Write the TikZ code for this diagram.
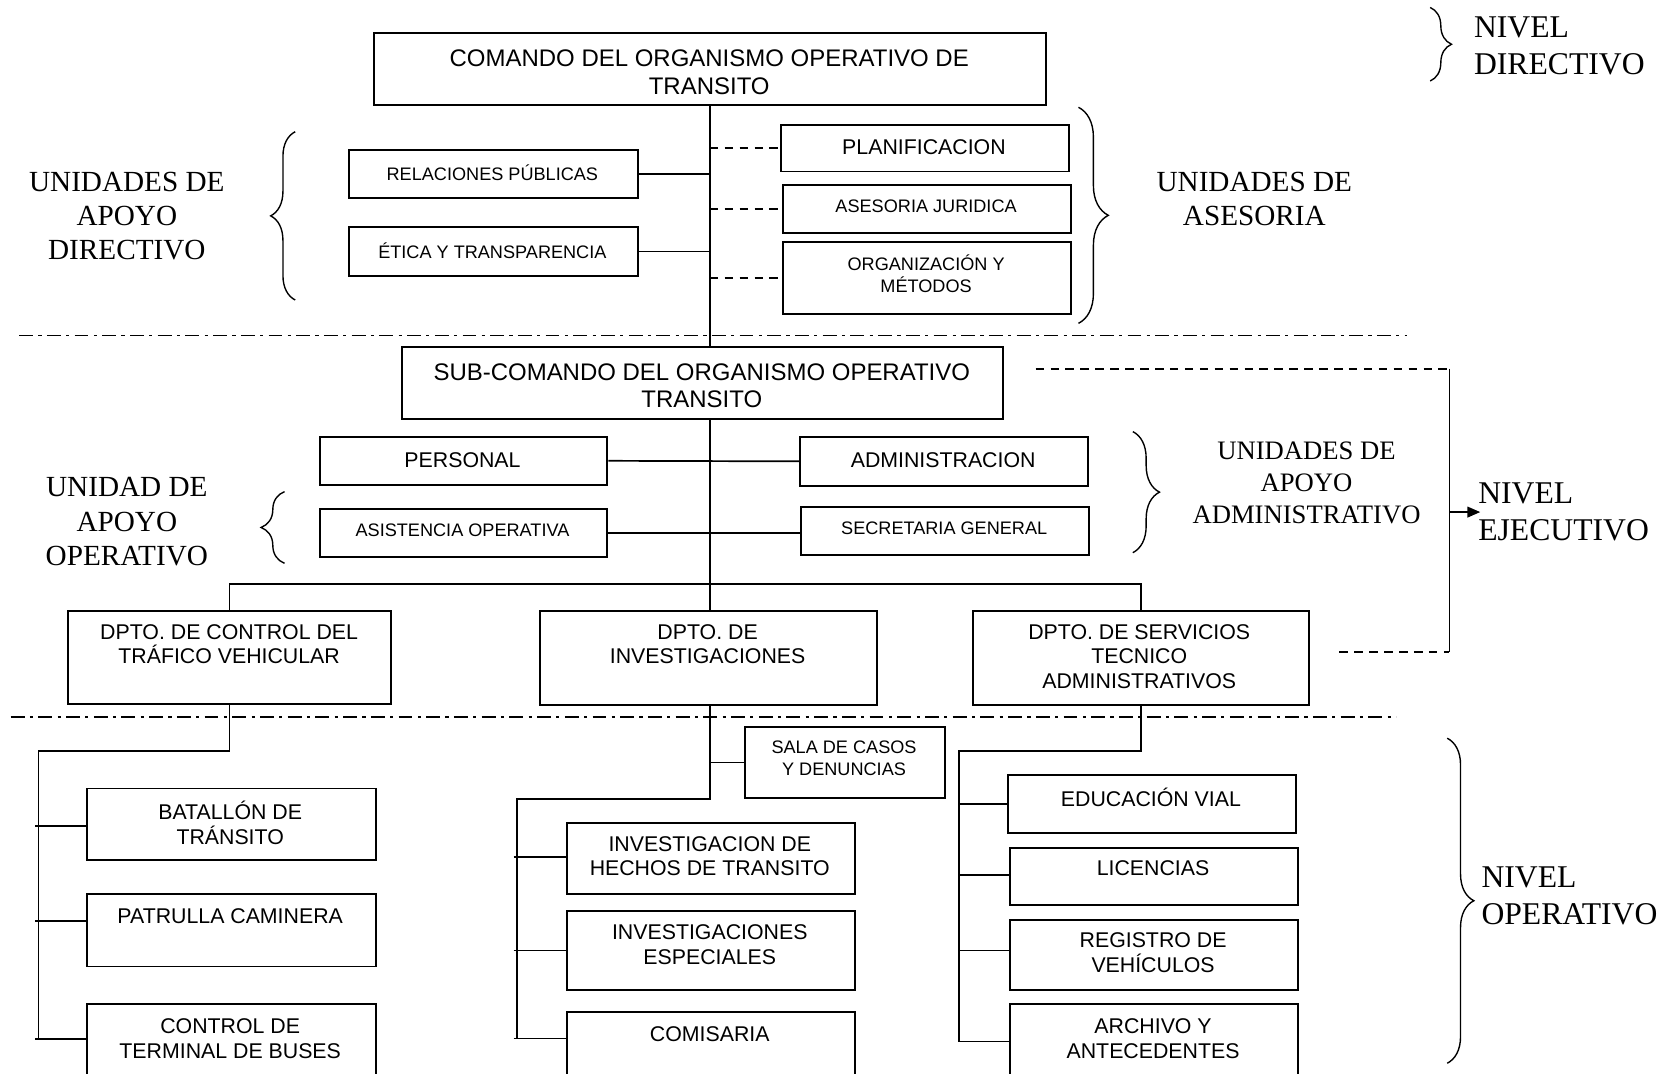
\documentclass[tikz,border=0pt]{standalone}
\usepackage{fontspec}
\setmainfont{Liberation Serif}
\newfontfamily\arialfont{Liberation Sans}
\usetikzlibrary{arrows.meta,decorations.pathreplacing}

\tikzset{
  unit/.style={draw, line width=1.8pt, inner sep=0pt, anchor=north west},
  cmdtxt/.style={font=\arialfont\fontsize{22.5}{26}\selectfont, align=center, inner sep=0pt},
  regtxt/.style={font=\arialfont\fontsize{20}{23}\selectfont, align=center, inner sep=0pt},
  smltxt/.style={font=\arialfont\fontsize{17}{20.5}\selectfont, align=center, inner sep=0pt},
  grptxt/.style={font=\fontsize{27.4}{32}\selectfont, align=center, inner sep=0pt},
  grpsmall/.style={font=\fontsize{25}{30}\selectfont, align=center, inner sep=0pt},
  lvltxt/.style={font=\fontsize{29.7}{34.5}\selectfont, align=left, inner sep=0pt, anchor=west},
  link/.style={line width=1.6pt},
  dlink/.style={line width=1.6pt, dash pattern=on 8pt off 6pt},
  divider/.style={line width=1.5pt, dash pattern=on 13pt off 5pt on 3pt off 5pt},
  grpbrace/.style={decorate, decoration={brace, amplitude=#1}, line width=1.3pt},
}

% box given by its top-left and bottom-right corners (y measured downwards)
\newcommand\unitbox[5]{%
  \node[unit, minimum width={(#4-#2)*1pt}, minimum height={(#5-#3)*1pt}] (#1) at (#2,-#3) {};}
% horizontal branch from a trunk line to the left side of a box
\newcommand\stub[3]{%
  \path ([yshift=#3]#2.west) coordinate (#2-j);
  \draw[link] (#1 |- #2-j) -- (#2-j);}

\begin{document}
\begin{tikzpicture}[x=1pt,y=1pt]
\useasboundingbox (0,0) rectangle (1568,-1007);
\fill[white] (0,0) rectangle (1568,-1007);
\clip (0,0) rectangle (1568,-1007);

% ---------- directive level ----------
\unitbox{comando}{350}{30}{981}{98}
\node[cmdtxt] (t-comando) at (665.5,-67.5) {COMANDO DEL ORGANISMO OPERATIVO DE\\TRANSITO};

\unitbox{relac}{327}{140}{598}{185}
\node[smltxt] (t-relac) at (462,-162) {RELACIONES PÚBLICAS};
\unitbox{etica}{327}{212}{598}{258}
\node[smltxt] (t-etica) at (462,-235) {ÉTICA Y TRANSPARENCIA};

\unitbox{planif}{732}{116}{1002}{160}
\node[regtxt] (t-planif) at (867,-138) {PLANIFICACION};
\unitbox{asesor}{734}{173}{1004}{218}
\node[smltxt] (t-asesor) at (869,-194) {ASESORIA JURIDICA};
\unitbox{orgmet}{734}{226}{1004}{294}
\node[smltxt] (t-orgmet) at (869,-256.5) {ORGANIZACIÓN Y\\MÉTODOS};

\coordinate (spine) at (666,0);
\draw[link] (comando.south -| spine) -- (spine |- 0,-325);
\draw[link] (relac.east) -- (relac.east -| spine);
\draw[link] (etica.east) -- (etica.east -| spine);
\draw[dlink] (planif.west -| spine) -- (planif.west);
\draw[dlink] (asesor.west -| spine) -- (asesor.west);
\draw[dlink] (orgmet.west -| spine) -- (orgmet.west);

\draw[grpbrace=23pt] (277,-281.5) -- (277,-123.6);
\node[grptxt] (g-apdir) at (119,-203) {UNIDADES DE\\APOYO\\DIRECTIVO};
\draw[grpbrace=28pt] (1012,-100.7) -- (1012,-303.4);
\node[grptxt] (g-ases) at (1177,-187) {UNIDADES DE\\ASESORIA};
\draw[grpbrace=20pt] (1342,-7) -- (1342,-76);
\node[lvltxt] (l-dir) at (1383,-43) {NIVEL\\DIRECTIVO};

\draw[divider] (18,-315) -- (1320,-315);

% ---------- executive level ----------
\unitbox{subcom}{376}{325}{940}{392}
\node[cmdtxt] (t-subcom) at (658.5,-362) {SUB-COMANDO DEL ORGANISMO OPERATIVO\\TRANSITO};

\unitbox{personal}{299}{409}{569}{454}
\node[regtxt] (t-personal) at (434,-431.5) {PERSONAL};
\unitbox{admin}{750}{409}{1020}{455}
\node[regtxt] (t-admin) at (885,-432) {ADMINISTRACION};
\unitbox{asist}{299}{477}{569}{522}
\node[smltxt] (t-asist) at (434,-498) {ASISTENCIA OPERATIVA};
\unitbox{secret}{751}{475}{1021}{520}
\node[smltxt] (t-secret) at (886,-496) {SECRETARIA GENERAL};

\draw[link] (personal.east) -- (admin.west);
\draw[link] (asist.east) -- (asist.east -| secret.west);

\unitbox{dctrl}{63}{572}{366}{660}
\node[regtxt] (t-dctrl) at (215,-604.5) {DPTO. DE CONTROL DEL\\TRÁFICO VEHICULAR};
\unitbox{dinv}{506}{572}{822}{661}
\node[regtxt] (t-dinv) at (664,-604.5) {DPTO. DE\\INVESTIGACIONES};
\unitbox{dserv}{912}{572}{1227}{661}
\node[regtxt] (t-dserv) at (1069,-616) {DPTO. DE SERVICIOS\\TECNICO\\ADMINISTRATIVOS};

\draw[link] (subcom.south -| spine) -- (dinv.north -| spine);
\coordinate (bus) at (0,-548);
\draw[link] (dctrl.north) -- (dctrl.north |- bus) -- (dserv.north |- bus) -- (dserv.north);

\draw[grpbrace=22pt] (267,-528.6) -- (267,-461.3);
\node[grptxt] (g-apop) at (119,-489.5) {UNIDAD DE\\APOYO\\OPERATIVO};
\draw[grpbrace=25pt] (1063,-405) -- (1063,-518.6);
\node[grpsmall] (g-apadm) at (1226,-453.5) {UNIDADES DE\\APOYO\\ADMINISTRATIVO};

\coordinate (exetop) at (1360,-346);
\coordinate (exebot) at (1360,-612);
\draw[dlink] ([shift={(30,-21)}]subcom.north east) -- (exetop);
\draw[link] (exetop) -- (exebot);
\draw[dlink] ([shift={(28,-40)}]dserv.north east) -- (exebot);
\node[lvltxt] (l-eje) at (1387,-480.5) {NIVEL\\EJECUTIVO};
\draw[link, -{Triangle[length=12pt,width=10pt]}] (exetop |- l-eje.west) -- ([xshift=2pt]l-eje.west);

\draw[divider] (10,-673) -- (1310,-673);

% ---------- operative level ----------
\unitbox{batallon}{81}{739}{352}{806}
\node[regtxt] (t-batallon) at (216,-772) {BATALLÓN DE\\TRÁNSITO};
\unitbox{patrulla}{81}{838}{352}{906}
\node[regtxt] (t-patrulla) at (216,-860) {PATRULLA CAMINERA};
\unitbox{terminal}{81}{941}{352}{1030}
\node[regtxt] (t-terminal) at (216,-974.5) {CONTROL DE\\TERMINAL DE BUSES};

\coordinate (ltop) at (36,-705);
\coordinate (lbot) at (36,-976);
\coordinate (lx) at (33,0);
\draw[link] (dctrl.south) |- (ltop) -- (lbot);
\stub{lx}{batallon}{-1.5pt}
\stub{lx}{patrulla}{9pt}
\stub{lx}{terminal}{11.5pt}

\unitbox{sala}{698}{681}{886}{748}
\node[smltxt] (t-sala) at (792,-711.5) {SALA DE CASOS\\Y DENUNCIAS};
\unitbox{hechos}{531}{771}{801}{838}
\node[regtxt] (t-hechos) at (666,-803.5) {INVESTIGACION DE\\HECHOS DE TRANSITO};
\unitbox{especial}{531}{854}{801}{928}
\node[regtxt] (t-especial) at (666,-886.5) {INVESTIGACIONES\\ESPECIALES};
\unitbox{comisaria}{531}{949}{801}{1030}
\node[regtxt] (t-comisaria) at (666,-970) {COMISARIA};

\coordinate (mtop) at (485,-750);
\coordinate (mbot) at (485,-974);
\coordinate (mx) at (482,0);
\draw[link] (dinv.south -| spine) |- (mtop) -- (mbot);
\draw[link] (spine |- sala.west) -- (sala.west);
\stub{mx}{hechos}{1pt}
\stub{mx}{especial}{0pt}
\stub{mx}{comisaria}{16pt}

\unitbox{educ}{945}{726}{1215}{781}
\node[regtxt] (t-educ) at (1080,-748) {EDUCACIÓN VIAL};
\unitbox{licen}{947}{795}{1217}{848}
\node[regtxt] (t-licen) at (1082,-815) {LICENCIAS};
\unitbox{registro}{947}{862}{1217}{928}
\node[regtxt] (t-registro) at (1082,-894) {REGISTRO DE\\VEHÍCULOS};
\unitbox{archivo}{947}{941}{1217}{1030}
\node[regtxt] (t-archivo) at (1082,-974.5) {ARCHIVO Y\\ANTECEDENTES};

\coordinate (rtop) at (900,-705);
\coordinate (rbot) at (900,-977);
\coordinate (rx) at (899,0);
\draw[link] (dserv.south) |- (rtop) -- (rbot);
\stub{rx}{educ}{0pt}
\stub{rx}{licen}{1.5pt}
\stub{rx}{registro}{4pt}
\stub{rx}{archivo}{9pt}

\draw[grpbrace=25pt] (1358,-692.7) -- (1358,-997.7);
\node[lvltxt] (l-ope) at (1390,-840.5) {NIVEL\\OPERATIVO};
\end{tikzpicture}
\end{document}
